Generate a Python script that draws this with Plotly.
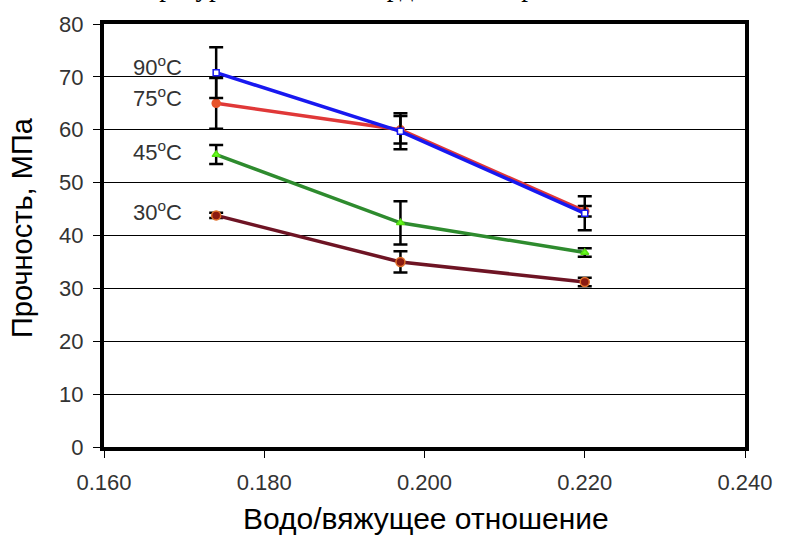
import plotly.graph_objects as go

x_vals = [0.174, 0.197, 0.220]
s90 = [70.8, 59.7, 44.2]
s90_err = [4.8, 3.4, 3.2]
s75 = [65.0, 60.0, 44.6]
s75_err = [4.8, 2.6, 1.0]
s45 = [55.3, 42.4, 36.8]
s45_err = [1.8, 4.1, 0.8]
s30 = [43.8, 35.0, 31.2]
s30_err = [0.5, 2.0, 0.8]

labels = ["90<sup>o</sup>C", "75<sup>o</sup>C", "45<sup>o</sup>C", "30<sup>o</sup>C"]
label_y = [72.1, 66.2, 56.0, 44.6]

x_ticks = [0.16, 0.18, 0.20, 0.22, 0.24]
y_ticks = [0, 10, 20, 30, 40, 50, 60, 70, 80]

fig = go.Figure()

def add(yv, err, color, msym, mcol, mline, msize):
    fig.add_trace(go.Scatter(
        x=x_vals, y=yv, mode="lines+markers",
        line=dict(color=color, width=3.5),
        marker=dict(symbol=msym, color=mcol, size=msize, line=dict(color=mline, width=1.5)),
        error_y=dict(type="data", array=err, visible=True, color="black", thickness=2.5, width=7),
        showlegend=False))

add(s30, s30_err, "#6E1424", "circle", "#8B1A10", "#E0702A", 9)
add(s45, s45_err, "#2E8B2E", "triangle-up", "#66FF22", "#55DD11", 7)
add(s75, s75_err, "#E03838", "circle", "#E8542A", "#E8542A", 8)
add(s90, s90_err, "#1818F0", "square", "white", "#1818F0", 6)

for t, yy in zip(labels, label_y):
    fig.add_annotation(x=0.1667, y=yy, xref="x", yref="y", text=t, showarrow=False,
                       font=dict(family="Liberation Sans, Arial", size=22, color="#333333"))

fig.add_annotation(x=0.502, y=-0.17, xref="paper", yref="paper", text="Водо/вяжущее отношение",
                   showarrow=False, yanchor="middle",
                   font=dict(family="Liberation Sans, Arial", size=30, color="black"))
fig.add_annotation(x=-0.128, y=0.52, xref="paper", yref="paper", text="Прочность, МПа",
                   showarrow=False, textangle=-90, xanchor="center",
                   font=dict(family="Liberation Sans, Arial", size=29, color="black"))
fig.add_annotation(x=-0.022, y=1.0, xref="paper", yref="paper",
                   text="температуры в начале твердения на прочность",
                   showarrow=False, xanchor="left", yanchor="bottom", yshift=20,
                   font=dict(family="Liberation Serif, Times New Roman", size=27, color="black"))

fig.update_xaxes(range=[0.16, 0.24], tickvals=x_ticks, tickformat=".3f",
                 showgrid=False, zeroline=False, showline=True, linecolor="black",
                 linewidth=4, mirror=True, ticks="outside", ticklen=7, tickcolor="black",
                 ticklabelstandoff=6,
                 tickfont=dict(family="Liberation Sans, Arial", size=22, color="#333333"))
fig.update_yaxes(range=[0, 80], tickvals=y_ticks, showgrid=True, gridcolor="black",
                 gridwidth=1, zeroline=False, showline=True, linecolor="black",
                 linewidth=4, mirror=True, ticks="outside", ticklen=7, tickcolor="black",
                 ticklabelstandoff=5,
                 tickfont=dict(family="Liberation Sans, Arial", size=22, color="#333333"))

fig.update_layout(width=785, height=542, margin=dict(l=104, r=34, t=24, b=95),
                  paper_bgcolor="white", plot_bgcolor="white")

fig.write_html("out.html")
